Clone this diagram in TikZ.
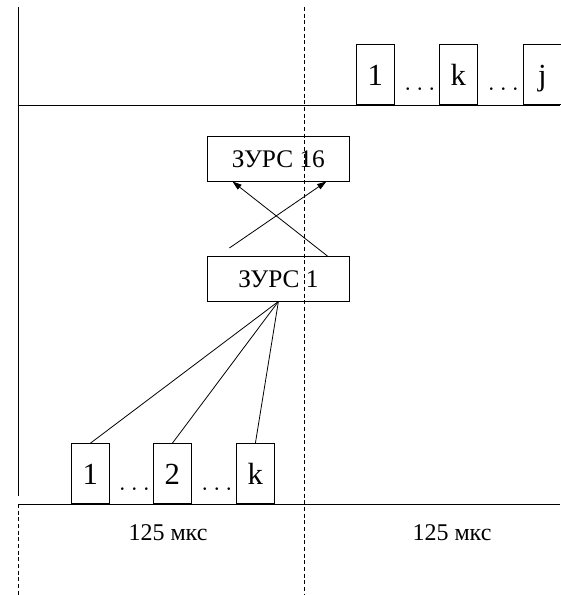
\documentclass[tikz,border=0pt]{standalone}
\usepackage{fontspec}
\setmainfont{Liberation Serif}
\usetikzlibrary{arrows.meta, positioning, calc}

\begin{document}
\begin{tikzpicture}[
    x=0.75pt,
    y=-0.75pt,
    % === STYLES ===
    slot/.style={
        rectangle,
        draw,
        line width=0.6pt,
        inner sep=0pt,
        minimum width=28.5pt,
        text height=30.75pt,
        text depth=14.25pt,
        font=\fontsize{23}{26}\selectfont,
        anchor=south west
    },
    unit/.style={
        rectangle,
        draw,
        line width=0.6pt,
        minimum width=106.5pt,
        minimum height=33.5pt,
        font=\fontsize{19}{22}\selectfont,
        anchor=north west
    },
    gap/.style={
        inner sep=0pt,
        font=\fontsize{20}{23}\selectfont,
        anchor=base
    },
    timelabel/.style={
        font=\fontsize{18}{21}\selectfont,
        anchor=base
    },
    axis/.style={
        line width=0.6pt
    },
    border/.style={
        line width=0.6pt,
        dash pattern=on 3pt off 2pt
    },
    link/.style={
        line width=0.6pt
    },
    arrow/.style={
        line width=0.6pt,
        -{Triangle[length=7pt, width=4.5pt]}
    }
]
\useasboundingbox (0,0) rectangle (560,595);

% === TIME AXES ===
\draw[axis] (18,7) -- (18,496);
\draw[axis] (18,105) -- (560,105);
\draw[axis] (18,504) -- (560,504);
\draw[border] (18,504) -- (18,595);
\draw[border] (304,7) -- (304,595);

% === TOP ROW: OUTPUT SLOTS ===
\node[slot] (t1) at (356,105) {1};
\node[slot] (tk) at (439,105) {k};
\node[slot] (tj) at (523,105) {j};
\node[gap] (tdots1) at ($(t1.south east)!0.5!(tk.south west)+(3,-14)$) {$\ldots$};
\node[gap] (tdots2) at ($(tk.south east)!0.5!(tj.south west)+(3,-14)$) {$\ldots$};

% === BOTTOM ROW: INPUT SLOTS ===
\node[slot] (b1) at (71,504) {1};
\node[slot] (b2) at (153,504) {2};
\node[slot] (bk) at (236,504) {k};
\node[gap] (bdots1) at ($(b1.south east)!0.5!(b2.south west)+(3,-14)$) {$\ldots$};
\node[gap] (bdots2) at ($(b2.south east)!0.5!(bk.south west)+(3,-14)$) {$\ldots$};

% === SWITCH UNITS ===
\node[unit] (z16) at (207,136) {ЗУРС 16};
\node[unit] (z1) at (207,256) {ЗУРС 1};

% === CONNECTIONS ===
\draw[link] (b1.north) -- (z1.south);
\draw[link] (b2.north) -- (z1.south);
\draw[link] (bk.north) -- (z1.south);

\coordinate (z1l) at ($(z1.north)+(-49,-8)$);
\coordinate (z1r) at ($(z1.north)+(49,0)$);
\draw[arrow] (z1l) -- ($(z16.south)+(48,0)$);
\draw[arrow] (z1r) -- ($(z16.south)+(-46,0)$);

% === TIME LABELS ===
\node[timelabel] (lab1) at (168,540) {125 мкс};
\node[timelabel] (lab2) at (452,540) {125 мкс};

\end{tikzpicture}
\end{document}
